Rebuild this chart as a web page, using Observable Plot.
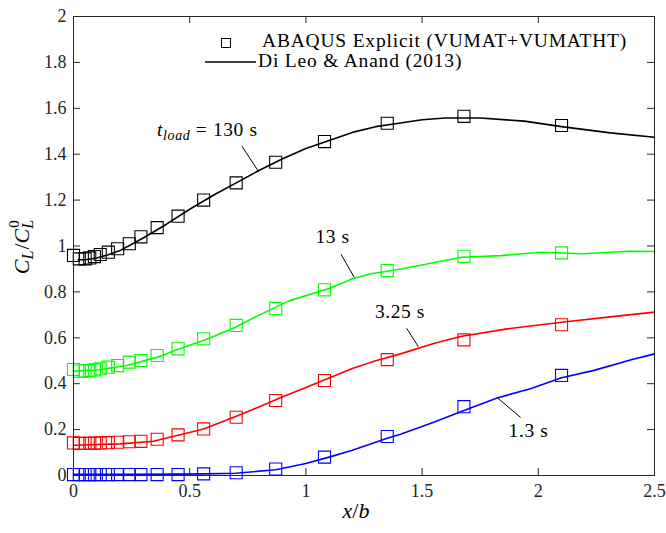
<!DOCTYPE html>
<html><head><meta charset="utf-8">
<script src="https://cdn.jsdelivr.net/npm/d3@7"></script>
<script src="https://cdn.jsdelivr.net/npm/@observablehq/plot@0.6"></script>
<style>
body{margin:0;background:#fff}
#chart{width:666px;height:533px}
</style>
</head><body><div id="chart"></div>
<script>
// ---- data ----
const xTicks = [0, 0.5, 1, 1.5, 2, 2.5];
const yTicks = [0, 0.2, 0.4, 0.6, 0.8, 1, 1.2, 1.4, 1.6, 1.8, 2];

// ABAQUS Explicit marker positions (x/b)
const markerX = [0, 0.025, 0.05, 0.07, 0.09, 0.115, 0.15, 0.19, 0.24, 0.29, 0.36, 0.45, 0.56, 0.70, 0.87, 1.08, 1.35, 1.68, 2.10];
const abaqus130  = [0.959, 0.944, 0.944, 0.948, 0.954, 0.963, 0.973, 0.988, 1.01, 1.04, 1.08, 1.13, 1.20, 1.275, 1.365, 1.455, 1.535, 1.565, 1.525];
const abaqus13   = [0.462, 0.455, 0.455, 0.457, 0.460, 0.465, 0.472, 0.479, 0.494, 0.501, 0.523, 0.552, 0.596, 0.654, 0.728, 0.809, 0.893, 0.955, 0.970];
const abaqus325  = [0.142, 0.140, 0.140, 0.140, 0.141, 0.142, 0.143, 0.145, 0.147, 0.149, 0.158, 0.177, 0.203, 0.254, 0.327, 0.414, 0.505, 0.591, 0.657];
const abaqus13s  = [0.004, 0.004, 0.004, 0.004, 0.004, 0.004, 0.004, 0.004, 0.004, 0.004, 0.004, 0.004, 0.007, 0.012, 0.028, 0.080, 0.170, 0.300, 0.436];

// Di Leo & Anand (2013) curves
const line130X = [0.02, 0.05, 0.1, 0.15, 0.2, 0.3, 0.4, 0.5, 0.6, 0.7, 0.8, 0.9, 1.0, 1.1, 1.2, 1.3, 1.4, 1.5, 1.6, 1.75, 1.94, 2.1, 2.31, 2.5];
const line130Y = [0.94, 0.94, 0.948, 0.962, 0.98, 1.035, 1.095, 1.16, 1.22, 1.275, 1.33, 1.38, 1.425, 1.46, 1.495, 1.52, 1.535, 1.55, 1.558, 1.558, 1.544, 1.52, 1.493, 1.474];
const line13X  = [0, 0.1, 0.23, 0.37, 0.45, 0.56, 0.69, 0.8, 0.93, 1.1, 1.2, 1.28, 1.41, 1.67, 1.84, 2.01, 2.19, 2.39, 2.5];
const line13Y  = [0.455, 0.46, 0.479, 0.518, 0.55, 0.588, 0.643, 0.70, 0.762, 0.815, 0.857, 0.879, 0.90, 0.951, 0.958, 0.973, 0.966, 0.977, 0.976];
const line325X = [0, 0.2, 0.344, 0.45, 0.56, 0.69, 0.8, 0.9, 1.0, 1.1, 1.2, 1.3, 1.407, 1.55, 1.665, 1.866, 2.1, 2.3, 2.5];
const line325Y = [0.132, 0.138, 0.149, 0.175, 0.203, 0.254, 0.30, 0.343, 0.383, 0.425, 0.466, 0.50, 0.53, 0.575, 0.606, 0.639, 0.668, 0.69, 0.712];
const line13sX = [0, 0.3, 0.56, 0.7, 0.87, 1.0, 1.1, 1.2, 1.35, 1.407, 1.55, 1.68, 1.823, 1.966, 2.1, 2.24, 2.4, 2.5];
const line13sY = [0.005, 0.005, 0.007, 0.01, 0.025, 0.052, 0.08, 0.11, 0.162, 0.18, 0.232, 0.283, 0.338, 0.378, 0.426, 0.458, 0.504, 0.53];

const seriesColors = ["#000000", "#00ff00", "#ff0000", "#0000ff"];

// annotation labels: text, text position (x, baseline y), leader line start/end
const annText  = ["130 s", "13 s", "3.25 s", "1.3 s"];
const annTX    = [0.578, 1.117, 1.407, 1.96];
const annTY    = [1.477, 1.01, 0.684, 0.164];
const annL1    = [[0.726, 1.434], [1.153, 0.962], [1.436, 0.639], [1.823, 0.339]];
const annL2    = [[0.80, 1.32],  [1.21, 0.861],  [1.486, 0.559], [1.926, 0.251]];

const legendLabels = ["ABAQUS Explicit (VUMAT+VUMATHT)", "Di Leo & Anand (2013)"];

// ---- build ----
const W = 666, H = 533, mL = 73, mR = 12, mT = 16, mB = 58;
const innerW = W - mL - mR, innerH = H - mT - mB;
const FONT = "'Liberation Serif', 'Times New Roman', serif";
const AX = "#262626";

const curves = [
  [line130X, line130Y], [line13X, line13Y], [line325X, line325Y], [line13sX, line13sY]
];
const markers = [abaqus130, abaqus13, abaqus325, abaqus13s];

function overlay(index, scales) {
  const x = scales.x, y = scales.y;
  const g = d3.create("svg:g").attr("font-family", FONT).attr("font-size", 19)
    .attr("fill", "#000").attr("text-anchor", "start");
  // leaders + labels
  annText.forEach((t, i) => {
    g.append("line")
      .attr("x1", x(annL1[i][0])).attr("y1", y(annL1[i][1]))
      .attr("x2", x(annL2[i][0])).attr("y2", y(annL2[i][1]))
      .attr("stroke", "#000").attr("stroke-width", 1);
    const tx = g.append("text").attr("x", x(annTX[i])).attr("y", y(annTY[i]))
      .attr("text-anchor", "middle").attr("font-size", 19.5).attr("letter-spacing", 0.6);
    if (i === 0) {
      tx.append("tspan").attr("font-style", "italic").text("t");
      tx.append("tspan").attr("font-style", "italic").attr("font-size", 14).attr("dy", 4).text("load");
      tx.append("tspan").attr("dy", -4).text(" = " + t);
    } else tx.text(t);
  });
  // legend
  const lx = mL + 153, ly = mT + 27;
  g.append("rect").attr("x", lx - 4.5).attr("y", ly - 4.5).attr("width", 9).attr("height", 9)
    .attr("fill", "none").attr("stroke", "#000").attr("stroke-width", 1);
  g.append("text").attr("x", 262).attr("y", mT + 31).attr("font-size", 19.5)
    .attr("letter-spacing", 0.8).text(legendLabels[0]);
  g.append("line").attr("x1", 205).attr("x2", 256).attr("y1", mT + 46).attr("y2", mT + 46)
    .attr("stroke", "#000").attr("stroke-width", 1.6);
  g.append("text").attr("x", 258).attr("y", mT + 51).attr("font-size", 19.5)
    .attr("letter-spacing", 0.8).text(legendLabels[1]);
  // x label
  const xl = g.append("text").attr("x", 356).attr("y", H - 15)
    .attr("text-anchor", "middle").attr("font-size", 22);
  xl.append("tspan").attr("font-style", "italic").text("x");
  xl.append("tspan").text("/");
  xl.append("tspan").attr("font-style", "italic").text("b");
  // y label
  const yl = g.append("text").attr("transform", `translate(29,247) rotate(-90)`)
    .attr("text-anchor", "middle").attr("font-size", 22);
  yl.append("tspan").attr("font-style", "italic").text("C");
  yl.append("tspan").attr("font-style", "italic").attr("font-size", 16).attr("dy", 4).text("L");
  yl.append("tspan").attr("dy", -4).attr("dx", 1).text("/");
  yl.append("tspan").attr("font-style", "italic").text("C");
  yl.append("tspan").attr("font-style", "italic").attr("font-size", 16).attr("dy", 4).text("L");
  yl.append("tspan").attr("font-size", 15).attr("dx", -8).attr("dy", -14).text("0");
  return g.node();
}

const chart = Plot.plot({
  width: W, height: H,
  marginLeft: mL, marginRight: mR, marginTop: mT, marginBottom: mB,
  x: {domain: [0, 2.5]},
  y: {domain: [0, 2]},
  style: {fontFamily: FONT, fontSize: "18px", color: AX, background: "white", overflow: "visible"},
  marks: [
    ...curves.map((c, k) => Plot.line(c[0].map((v, i) => ({x: v, y: c[1][i]})),
      {x: "x", y: "y", stroke: seriesColors[k], strokeWidth: 1.6})),
    ...markers.map((m, k) => Plot.dot(markerX.map((v, i) => ({x: v, y: m[i]})),
      {x: "x", y: "y", symbol: "square", r: 6.8, stroke: seriesColors[k], strokeWidth: 1.1, fill: "none"})),
    Plot.frame({stroke: AX, strokeWidth: 1}),
    Plot.tickX(xTicks, {x: d => d, insetTop: innerH - 7, stroke: AX}),
    Plot.tickX(xTicks, {x: d => d, insetBottom: innerH - 7, stroke: AX}),
    Plot.tickY(yTicks, {y: d => d, insetRight: innerW - 7, stroke: AX}),
    Plot.tickY(yTicks, {y: d => d, insetLeft: innerW - 7, stroke: AX}),
    Plot.axisX({ticks: xTicks, tickSize: 0, tickPadding: 9, label: null, tickFormat: d => String(d)}),
    Plot.axisY({ticks: yTicks, tickSize: 0, tickPadding: 7, label: null, tickFormat: d => String(+d.toFixed(1))}),
    overlay
  ]
});
document.getElementById("chart").appendChild(chart);
</script>
</body></html>
